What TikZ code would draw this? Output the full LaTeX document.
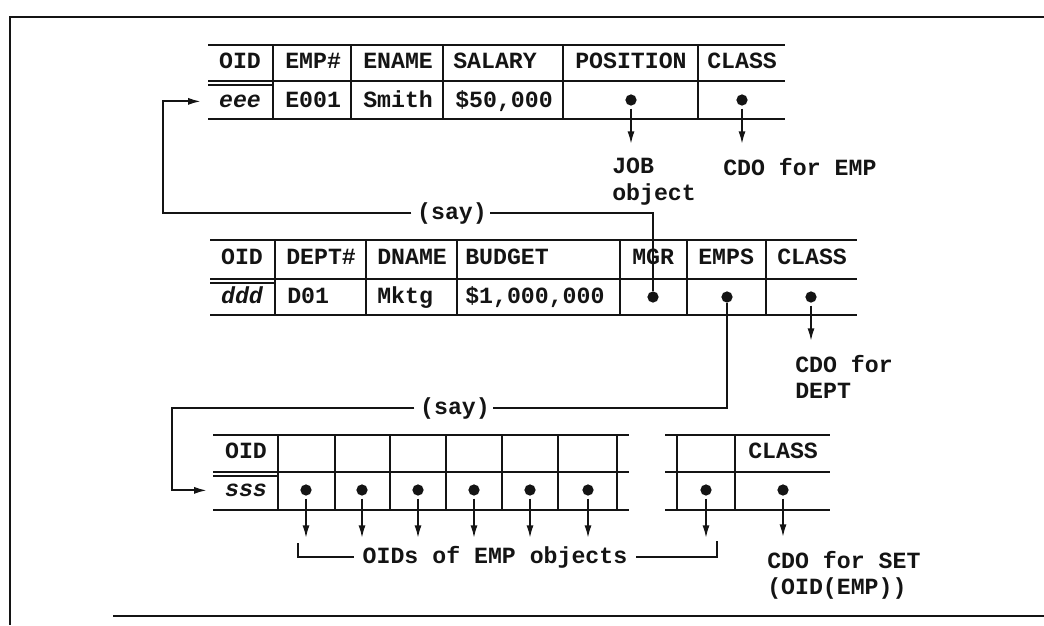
\documentclass[tikz,border=0pt]{standalone}
\usepackage{fontspec}
\setmonofont{Liberation Mono}
\usepackage{tikz}
\usetikzlibrary{positioning,arrows.meta,calc}
\definecolor{ink}{HTML}{141414}
\tikzset{
  % --- nodes
  txt/.style  = {font=\fontsize{16.5}{19}\selectfont\ttfamily\bfseries, text=ink, inner sep=0pt},
  cell/.style = {txt, anchor=base west},
  oidc/.style = {txt, anchor=base},
  oidv/.style = {oidc, font=\fontsize{16.5}{19}\selectfont\ttfamily\bfseries\itshape, outer xsep=13pt},
  lbl/.style  = {txt, align=left, anchor=north west, outer ysep=10pt},
  say/.style  = {txt, inner xsep=2pt},
  ptr/.style  = {circle, fill=ink, inner sep=0pt, minimum size=8pt},
  % --- edges
  tbl/.style  = {draw=ink, line width=1.6pt},
  conn/.style = {draw=ink, line width=1.3pt},
  e/.style    = {conn, shorten <=2pt, -{Latex[length=9pt,width=5pt]}},
}

\begin{document}
\begin{tikzpicture}[x=0.025cm,y=-0.025cm]
  \useasboundingbox (0,0) rectangle (1044,625);

  % frame
  \draw[tbl] (1044,17) -- (10,17) -- (10,625);
  \draw[tbl] (113,616) -- (1044,616);

  % EMP object
  \foreach \y in {45,81,119} \draw[tbl] (208,\y) -- (785,\y);
  \draw[tbl] (208,85) -- (273,85);
  \foreach \x in {273,351,443,563,698} \draw[tbl] (\x,45) -- (\x,119);
  \node[oidc] (empoid) at (240,68.5) {OID};
  \node[cell] (empno)  at (285,68.5) {EMP\#};
  \node[cell] (ename)  at (363,68.5) {ENAME};
  \node[cell] (salary) at (453,68.5) {SALARY};
  \node[cell] (pos)    at (575,68.5) {POSITION};
  \node[cell] (empcl)  at (707,68.5) {CLASS};
  \node[oidv] (eee)    at (240,107.5) {eee};
  \node[cell] (e001)   at (285,107.5) {E001};
  \node[cell] (smith)  at (363,107.5) {Smith};
  \node[cell] (sal)    at (455,107.5) {\$50,000};
  \node[ptr]  (posdot) at (631,100) {};
  \node[ptr]  (empcls) at (742,100) {};
  \node[lbl]  (job)    at (612,144) {JOB\\object};
  \node[lbl]  (cdoemp) at (723,144) {CDO for EMP};
  \draw[e] (posdot) -- (posdot |- job.north);
  \draw[e] (empcls) -- (empcls |- cdoemp.north);

  % DEPT object
  \foreach \y in {240,279,315} \draw[tbl] (210,\y) -- (857,\y);
  \draw[tbl] (210,283) -- (275,283);
  \foreach \x in {275,366,457,620,687,766} \draw[tbl] (\x,240) -- (\x,315);
  \node[oidc] (dptoid) at (242,264.5) {OID};
  \node[cell] (deptno) at (286,264.5) {DEPT\#};
  \node[cell] (dname)  at (377,264.5) {DNAME};
  \node[cell] (budget) at (465,264.5) {BUDGET};
  \node[cell] (mgr)    at (632,264.5) {MGR};
  \node[cell] (emps)   at (698,264.5) {EMPS};
  \node[cell] (dptcl)  at (777,264.5) {CLASS};
  \node[oidv] (ddd)    at (242,303.5) {ddd};
  \node[cell] (d01)    at (287,303.5) {D01};
  \node[cell] (mktg)   at (377,303.5) {Mktg};
  \node[cell] (bud)    at (465,303.5) {\$1,000,000};
  \node[ptr]  (mgrdot) at (653,297) {};
  \node[ptr]  (empsdot) at (727,297) {};
  \node[ptr]  (dptcls) at (811,297) {};
  \node[lbl]  (cdodept) at (795,341) {CDO for\\DEPT};
  \draw[e] (dptcls) -- (dptcls |- cdodept.north);

  % MGR -> eee
  \node[say] (say1) at (452,213) {(say)};
  \coordinate (c1) at (163,213);
  \draw[conn] (mgrdot) |- (say1.east);
  \draw[e] (say1.west) -- (c1) |- (eee.west);

  % SET object
  \foreach \y in {435,472,510} \draw[tbl] (213,\y) -- (629,\y);
  \draw[tbl] (213,476) -- (278,476);
  \foreach \x in {278,335,390,446,502,558,617} \draw[tbl] (\x,435) -- (\x,510);
  \foreach \y in {435,472,510} \draw[tbl] (665,\y) -- (830,\y);
  \foreach \x in {677,735} \draw[tbl] (\x,435) -- (\x,510);
  \node[oidc] (setoid) at (246,458.5) {OID};
  \node[cell] (setcl)  at (748,458.5) {CLASS};
  \node[oidv] (sss)    at (246,496.5) {sss};

  % EMPS -> sss
  \node[say] (say2) at (455,408) {(say)};
  \coordinate (c2) at (172,408);
  \draw[conn] (empsdot) |- (say2.east);
  \draw[e] (say2.west) -- (c2) |- (sss.west);

  \coordinate (tipline) at (0,538);
  \foreach \x [count=\i] in {306,362,418,474,530,588,706} {
    \node[ptr] (s\i) at (\x,490) {};
    \draw[e] (s\i) -- (s\i |- tipline);
  }
  \node[ptr] (setcls) at (783,490) {};
  \node[lbl] (cdoset) at (767,537) {CDO for SET\\(OID(EMP))};
  \draw[e] (setcls) -- (setcls |- cdoset.north);

  \node[txt, inner xsep=6pt, anchor=base] (oids) at (495,563.5) {OIDs of EMP objects};
  \coordinate (bl) at (298,543);
  \coordinate (br) at (717,541);
  \draw[conn] (bl) |- (oids.west);
  \draw[conn] (oids.east) -| (br);
\end{tikzpicture}
\end{document}
